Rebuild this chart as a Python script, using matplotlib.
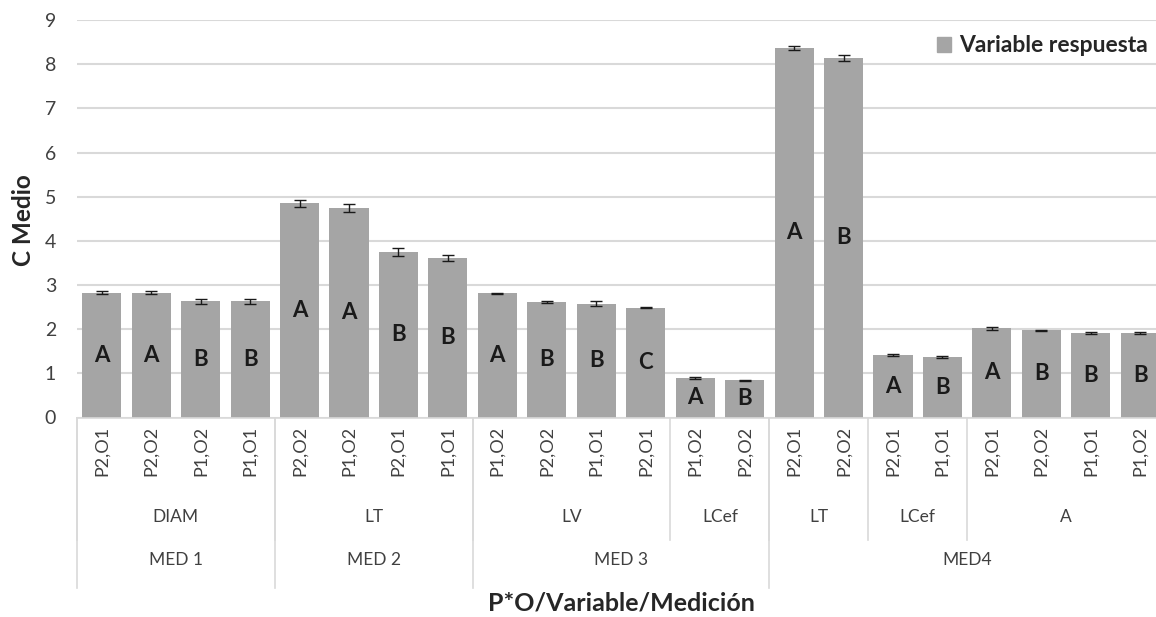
import matplotlib
matplotlib.use("Agg")
import matplotlib.pyplot as plt
from matplotlib.patches import Patch

plt.rcParams['font.family'] = ['Lato', 'DejaVu Sans']

# P*O combination for each bar
combos = ["P2,O1", "P2,O2", "P1,O2", "P1,O1",
          "P2,O2", "P1,O2", "P2,O1", "P1,O1",
          "P1,O2", "P2,O2", "P1,O1", "P2,O1",
          "P1,O2", "P2,O2",
          "P2,O1", "P2,O2",
          "P2,O1", "P1,O1",
          "P2,O1", "P2,O2", "P1,O1", "P1,O2"]

# response variable groups (name, number of bars)
variables = ["DIAM", "LT", "LV", "LCef", "LT", "LCef", "A"]
variable_sizes = [4, 4, 4, 2, 2, 2, 4]

# measurement groups (name, number of bars)
mediciones = ["MED 1", "MED 2", "MED 3", "MED4"]
medicion_sizes = [4, 4, 6, 8]

# mean values, standard errors and Tukey letters
means = [2.83, 2.83, 2.63, 2.63,
         4.85, 4.74, 3.75, 3.62,
         2.81, 2.62, 2.58, 2.49,
         0.89, 0.84,
         8.37, 8.14,
         1.41, 1.37,
         2.02, 1.97, 1.92, 1.92]
errors = [0.04, 0.04, 0.06, 0.06,
          0.08, 0.09, 0.09, 0.07,
          0.02, 0.02, 0.06, 0.02,
          0.02, 0.01,
          0.05, 0.06,
          0.02, 0.02,
          0.03, 0.01, 0.02, 0.02]
letters = ["A", "A", "B", "B",
           "A", "A", "B", "B",
           "A", "B", "B", "C",
           "A", "B",
           "A", "B",
           "A", "B",
           "A", "B", "B", "B"]

W, H = 1156, 617
fig = plt.figure(figsize=(W / 100, H / 100), dpi=100)
left_px, right_px, top_px, zero_px = 77, 1165, 20, 417.5
ax = fig.add_axes([left_px / W, (H - zero_px) / H,
                   (right_px - left_px) / W, (zero_px - top_px) / H])

bar_color = "#a5a5a5"
grid_color = "#d9d9d9"
text_color = "#404040"

x = list(range(len(means)))
ax.bar(x, means, width=0.79, color=bar_color, zorder=2)
ax.errorbar(x, means, yerr=errors, fmt="none", ecolor="#1a1a1a",
            elinewidth=1.0, capsize=4, capthick=1.0, zorder=3)

for xi, v, letter in zip(x, means, letters):
    ax.text(xi, v / 2, letter, ha="center", va="center", fontsize=16,
            fontweight="bold", color="#1a1a1a", zorder=4)

ax.set_xlim(-0.5, len(means) - 0.5)
ax.set_ylim(0, 9)
ax.set_yticks(range(0, 10))
ax.yaxis.grid(True, color=grid_color, linewidth=1.5, zorder=0)
ax.set_axisbelow(True)
for side in ["left", "right", "top"]:
    ax.spines[side].set_visible(False)
ax.spines["bottom"].set_color(grid_color)
ax.spines["bottom"].set_linewidth(1.2)
ax.tick_params(axis="y", length=0, pad=15, labelsize=14, labelcolor=text_color)

ax.set_xticks(x)
ax.set_xticklabels(combos, rotation=90, fontsize=13, color=text_color)
ax.tick_params(axis="x", length=0, pad=6)

# hierarchical category axis: variable row and measurement row
xt = ax.get_xaxis_transform()
var_bottom, med_bottom = -0.308, -0.429
start = -0.5
for name, n in zip(variables, variable_sizes):
    ax.text(start + n / 2, -0.250, name, transform=xt, ha="center", va="center",
            fontsize=12.5, color=text_color)
    ax.plot([start, start], [0, var_bottom], transform=xt, color=grid_color,
            linewidth=1.2, clip_on=False)
    start += n
start = -0.5
for name, n in zip(mediciones, medicion_sizes):
    ax.text(start + n / 2, -0.358, name, transform=xt, ha="center", va="center",
            fontsize=12.5, color=text_color)
    ax.plot([start, start], [0, med_bottom], transform=xt, color=grid_color,
            linewidth=1.2, clip_on=False)
    start += n
ax.plot([start, start], [0, med_bottom], transform=xt, color=grid_color,
        linewidth=1.2, clip_on=False)

ax.text(0.5, -0.467, "P*O/Variable/Medición", transform=ax.transAxes,
        ha="center", va="center", fontsize=18, fontweight="bold", color="#262626")
fig.text(24 / W, (H - 220) / H, "C Medio", rotation=90, ha="center", va="center",
         fontsize=17.5, fontweight="bold", color="#262626")

ax.legend(handles=[Patch(color=bar_color, label="Variable respuesta")],
          loc="upper left", bbox_to_anchor=(926 / W, 1 - 24 / H),
          bbox_transform=fig.transFigure, frameon=False, borderpad=0,
          handlelength=0.6, handleheight=0.6, handletextpad=0.35,
          prop={"size": 16.5, "weight": "bold"}, labelcolor="#262626")

fig.savefig("out.png", dpi=100)
